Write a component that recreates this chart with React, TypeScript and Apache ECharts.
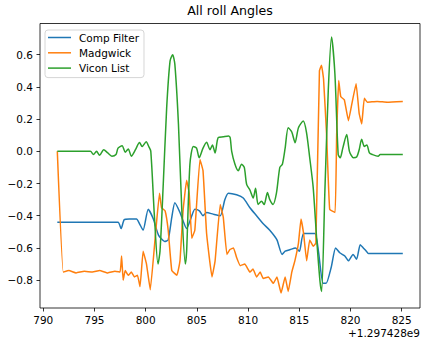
import React, { useEffect, useRef } from 'react';
import * as echarts from 'echarts';

const titleText = 'All roll Angles';
const offsetText = '+1.297428e9';
const seriesNames = ['Comp Filter', 'Madgwick', 'Vicon List'];
const seriesColors = ['#1f77b4', '#ff7f0e', '#2ca02c'];
const xTicks = [790, 795, 800, 805, 810, 815, 820, 825];
const yTicks = [-0.8, -0.6, -0.4, -0.2, 0.0, 0.2, 0.4, 0.6];

const compT = [791.37, 797.3, 797.6, 797.9, 798.4, 799.1, 799.4, 799.75, 800.25, 800.75, 801.25, 801.85, 802.2, 802.55, 802.85, 803.35, 804.0, 804.45, 804.8, 805.25, 805.6, 805.95, 806.58, 807.28, 807.73, 808.08, 808.88, 809.53, 810.18, 810.83, 811.48, 812.12, 812.82, 813.32, 813.62, 814.12, 814.62, 815.02, 815.42, 816.52, 816.87, 817.32, 817.62, 818.12, 818.55, 818.95, 819.45, 819.8, 820.25, 820.6, 820.95, 821.25, 821.55, 821.75, 825.11];
const compV = [-0.44, -0.44, -0.48, -0.425, -0.42, -0.42, -0.45, -0.49, -0.36, -0.42, -0.52, -0.56, -0.55, -0.41, -0.32, -0.38, -0.48, -0.41, -0.36, -0.37, -0.40, -0.38, -0.39, -0.40, -0.30, -0.26, -0.27, -0.29, -0.35, -0.40, -0.45, -0.49, -0.55, -0.64, -0.62, -0.61, -0.60, -0.62, -0.51, -0.51, -0.62, -0.82, -0.82, -0.72, -0.60, -0.63, -0.65, -0.68, -0.64, -0.67, -0.58, -0.60, -0.62, -0.635, -0.635];

const madgT = [791.37, 791.95, 792.5, 793.2, 794.0, 794.8, 795.5, 796.3, 797.0, 797.5, 797.65, 797.8, 798.0, 798.3, 798.6, 798.9, 799.2, 799.45, 799.75, 800.08, 800.45, 800.95, 801.35, 801.55, 801.9, 802.2, 802.55, 803.05, 803.35, 803.65, 804.0, 804.25, 804.5, 804.8, 805.3, 805.6, 805.95, 806.48, 806.78, 807.28, 807.58, 807.93, 808.23, 808.58, 808.88, 809.23, 809.68, 810.18, 810.48, 810.83, 811.18, 811.48, 811.98, 812.47, 812.82, 813.22, 813.62, 813.92, 814.27, 814.57, 814.92, 815.17, 815.42, 815.72, 816.02, 816.37, 816.62, 816.97, 817.17, 817.37, 817.67, 817.97, 818.5, 818.65, 818.85, 819.05, 819.4, 819.8, 820.15, 820.55, 820.85, 821.1, 821.35, 821.65, 822.6, 823.6, 825.11];
const madgV = [0.0, -0.75, -0.74, -0.755, -0.745, -0.75, -0.74, -0.755, -0.745, -0.75, -0.65, -0.80, -0.74, -0.77, -0.75, -0.78, -0.77, -0.84, -0.62, -0.70, -0.86, -0.52, -0.26, -0.35, -0.37, -0.49, -0.74, -0.77, -0.68, -0.37, -0.18, -0.26, -0.54, -0.49, -0.05, -0.12, -0.51, -0.78, -0.68, -0.33, -0.41, -0.64, -0.61, -0.60, -0.66, -0.71, -0.70, -0.75, -0.73, -0.78, -0.75, -0.79, -0.78, -0.82, -0.78, -0.88, -0.78, -0.87, -0.75, -0.68, -0.57, -0.42, -0.51, -0.68, -0.55, -0.59, -0.57, 0.50, 0.535, 0.45, 0.10, -0.36, -0.38, 0.10, 0.44, 0.34, 0.32, 0.19, 0.30, 0.42, 0.235, 0.17, 0.33, 0.305, 0.31, 0.305, 0.31];

const viconT = [791.37, 794.6, 794.9, 795.2, 795.5, 795.9, 796.3, 796.7, 797.1, 797.3, 797.7, 798.0, 798.3, 798.6, 799.0, 799.4, 799.65, 800.05, 800.3, 800.5, 800.85, 801.2, 801.4, 801.72, 802.05, 802.38, 802.63, 802.85, 803.2, 803.52, 803.87, 804.0, 804.32, 804.65, 804.97, 805.22, 805.6, 805.95, 806.28, 806.52, 806.78, 807.08, 807.58, 808.08, 808.25, 808.4, 808.72, 809.04, 809.37, 809.63, 809.86, 810.18, 810.5, 810.73, 810.98, 811.31, 811.57, 811.89, 812.12, 812.44, 812.77, 813.1, 813.35, 813.62, 813.92, 814.27, 814.59, 814.92, 815.39, 815.7, 816.02, 816.36, 816.69, 817.02, 817.18, 817.5, 817.83, 818.15, 818.48, 818.8, 819.0, 819.25, 819.63, 819.9, 820.28, 820.6, 820.85, 821.09, 821.35, 821.6, 821.85, 822.15, 822.7, 822.9, 825.11];
const viconV = [0.0, 0.0, -0.02, 0.0, -0.025, 0.01, -0.01, -0.03, -0.02, 0.02, 0.035, -0.005, 0.015, -0.03, 0.01, 0.055, 0.03, 0.06, 0.03, 0.0, -0.40, -0.70, -0.62, -0.20, 0.27, 0.56, 0.60, 0.54, 0.17, -0.35, -0.70, -0.62, -0.08, 0.03, 0.02, -0.04, 0.02, 0.056, 0.01, 0.04, -0.01, 0.085, 0.09, 0.095, 0.085, 0.0, -0.08, -0.12, -0.08, -0.10, -0.205, -0.24, -0.29, -0.23, -0.33, -0.31, -0.33, -0.256, -0.30, -0.33, -0.26, -0.10, -0.08, 0.02, 0.147, 0.12, 0.054, 0.147, 0.188, 0.12, -0.04, -0.225, -0.536, -0.805, -0.87, -0.25, 0.375, 0.71, 0.48, -0.02, -0.04, 0.02, 0.105, 0.0, -0.04, -0.035, 0.01, 0.075, 0.03, 0.04, -0.01, -0.02, -0.03, -0.02, -0.02];

const FONT = '"DejaVu Sans", sans-serif';
const seriesSmooth = [0.2, 0.1, 0.25];

function zip(t: number[], v: number[]) {
  return t.map((x, i) => [x, v[i]]);
}

export default function App() {
  const ref = useRef<HTMLDivElement>(null);
  useEffect(() => {
    document.body.style.margin = '0';
    const chart = echarts.init(ref.current!, null, { renderer: 'svg' });
    const data = [zip(compT, compV), zip(madgT, madgV), zip(viconT, viconV)];
    chart.setOption({
      animation: false,
      backgroundColor: '#ffffff',
      title: {
        text: titleText,
        left: 230,
        top: 4,
        padding: 0,
        textAlign: 'center',
        textStyle: { fontFamily: FONT, fontSize: 12.6, fontWeight: 'normal', color: '#000' },
      },
      legend: {
        data: seriesNames,
        orient: 'vertical',
        left: 45,
        top: 30,
        padding: [2, 5, 4, 3],
        itemGap: 4.3,
        itemWidth: 23,
        itemHeight: 12,
        icon: 'path://M0,0H46V3H0Z',
        backgroundColor: 'rgba(255,255,255,0.8)',
        borderColor: '#d6d6d6',
        borderWidth: 1,
        borderRadius: 3,
        textStyle: { fontFamily: FONT, fontSize: 10.5, color: '#000', padding: [0, 0, 0, 3] },
      },
      grid: {
        show: true,
        left: 40,
        top: 23.5,
        right: 2,
        bottom: 37,
        borderColor: '#000',
        borderWidth: 0.8,
        containLabel: false,
      },
      xAxis: {
        type: 'value',
        min: 789.68,
        max: 826.79,
        axisLine: { show: false, onZero: false },
        splitLine: { show: false },
        axisTick: { show: true, inside: false, length: 3.5, lineStyle: { color: '#000', width: 0.8 }, customValues: xTicks },
        axisLabel: {
          customValues: xTicks,
          margin: 6,
          fontFamily: FONT,
          fontSize: 10.5,
          color: '#000',
          formatter: (v: number) => String(Math.round(v)),
        },
      },
      yAxis: {
        type: 'value',
        min: -0.973,
        max: 0.794,
        axisLine: { show: false, onZero: false },
        splitLine: { show: false },
        axisTick: { show: true, inside: false, length: 3.5, lineStyle: { color: '#000', width: 0.8 }, customValues: yTicks },
        axisLabel: {
          customValues: yTicks,
          margin: 7,
          fontFamily: FONT,
          fontSize: 10.5,
          color: '#000',
          formatter: (v: number) => (v < -1e-9 ? '\u2212' : '') + Math.abs(v).toFixed(1),
        },
      },
      graphic: [
        {
          type: 'text',
          right: 2,
          top: 327,
          style: { text: offsetText, font: '10.5px "DejaVu Sans", sans-serif', fill: '#000' },
        },
      ],
      series: seriesNames.map((name, i) => ({
        name,
        type: 'line',
        data: data[i],
        symbol: 'none',
        showSymbol: false,
        smooth: seriesSmooth[i],
        color: seriesColors[i],
        lineStyle: { width: 1.5, color: seriesColors[i] },
      })),
    });
    return () => chart.dispose();
  }, []);
  return <div ref={ref} style={{ width: 422, height: 345 }} />;
}
